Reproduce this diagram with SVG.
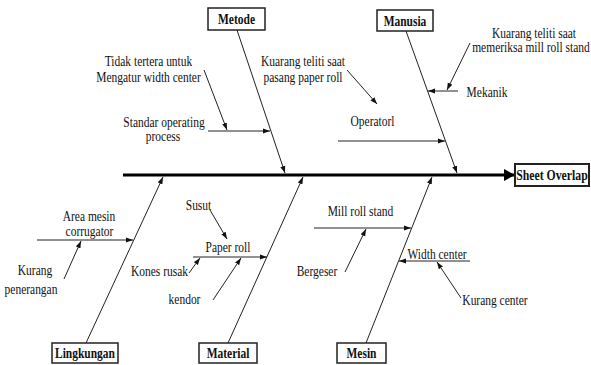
<svg xmlns="http://www.w3.org/2000/svg" width="591" height="365" viewBox="0 0 591 365" font-family="'Liberation Serif', 'Times New Roman', serif">
<style>
text{font-family:"Liberation Serif","Times New Roman",serif;font-size:14px;fill:#111;text-anchor:middle}
.lbl{font-weight:bold}
.box{fill:#fff;stroke:#222;stroke-width:1.5}
.bone{stroke:#222;stroke-width:1;fill:none;marker-end:url(#ah)}
.spine{stroke:#000;stroke-width:3;fill:none;marker-end:url(#ahb)}
</style>
<defs>
<marker id="ah" markerUnits="userSpaceOnUse" markerWidth="8" markerHeight="6" refX="7" refY="3" orient="auto"><path d="M0,0.5 L7,3 L0,5.5 z" fill="#111"/></marker>
<marker id="ahb" markerUnits="userSpaceOnUse" markerWidth="12" markerHeight="12" refX="11" refY="6" orient="auto"><path d="M0,0 L11,6 L0,12 z" fill="#000"/></marker>
</defs>
<rect width="591" height="365" fill="#fff"/>
<g id="connectors">
<line class="spine" x1="123" y1="175" x2="515" y2="175"/>
<line class="bone" x1="237" y1="30" x2="285" y2="173"/>
<line class="bone" x1="406" y1="31" x2="457" y2="173"/>
<line class="bone" x1="86" y1="343" x2="163" y2="177"/>
<line class="bone" x1="228" y1="343" x2="303" y2="177"/>
<line class="bone" x1="366" y1="343" x2="432" y2="177"/>
<line class="bone" x1="208" y1="131" x2="270" y2="131"/>
<line class="bone" x1="204" y1="70" x2="227" y2="130"/>
<line class="bone" x1="347" y1="70" x2="377" y2="104"/>
<line class="bone" x1="338" y1="141" x2="445" y2="141"/>
<line class="bone" x1="470" y1="43" x2="447" y2="90"/>
<line class="bone" x1="458" y1="91" x2="428" y2="91"/>
<line class="bone" x1="37" y1="240" x2="133" y2="240"/>
<line class="bone" x1="64" y1="279" x2="81" y2="241"/>
<line class="bone" x1="210" y1="210" x2="227" y2="239"/>
<line class="bone" x1="193" y1="257" x2="267" y2="257"/>
<line class="bone" x1="189" y1="273" x2="200" y2="258"/>
<line class="bone" x1="213" y1="300" x2="241" y2="258"/>
<line class="bone" x1="314" y1="228" x2="411" y2="228"/>
<line class="bone" x1="345" y1="272" x2="366" y2="229"/>
<line class="bone" x1="470" y1="261" x2="399" y2="261"/>
<line class="bone" x1="461" y1="298" x2="437" y2="262"/>
</g>
<g id="metode"><rect class="box" x="208" y="8" width="57" height="22"/><text class="lbl" transform="matrix(0.82 0 0 1 236.5 24)">Metode</text></g>
<g id="manusia"><rect class="box" x="377" y="10" width="56" height="21"/><text class="lbl" transform="matrix(0.82 0 0 1 405 26)">Manusia</text></g>
<g id="sheet-overlap"><rect class="box" x="515" y="164" width="74" height="22" style="stroke-width:2"/><text class="lbl" transform="matrix(0.84 0 0 1 552 180)">Sheet Overlap</text></g>
<g id="lingkungan"><rect class="box" x="52" y="343" width="66" height="20"/><text class="lbl" transform="matrix(0.82 0 0 1 85 358)">Lingkungan</text></g>
<g id="material"><rect class="box" x="199" y="343" width="58" height="20"/><text class="lbl" transform="matrix(0.82 0 0 1 228 358)">Material</text></g>
<g id="mesin"><rect class="box" x="337" y="343" width="49" height="20"/><text class="lbl" transform="matrix(0.82 0 0 1 361.5 358)">Mesin</text></g>
<g id="labels">
<text transform="matrix(0.82 0 0 1 148.5 66)">Tidak tertera untuk</text>
<text transform="matrix(0.82 0 0 1 148.5 82)">Mengatur width center</text>
<text transform="matrix(0.82 0 0 1 303 66)">Kuarang teliti saat</text>
<text transform="matrix(0.82 0 0 1 303 82)">pasang paper roll</text>
<text transform="matrix(0.82 0 0 1 164 127)">Standar operating</text>
<text transform="matrix(0.82 0 0 1 163 141)">process</text>
<text transform="matrix(0.82 0 0 1 372.5 126)">Operatorl</text>
<text transform="matrix(0.82 0 0 1 534 38)">Kuarang teliti saat</text>
<text transform="matrix(0.82 0 0 1 531 52)">memeriksa mill roll stand</text>
<text transform="matrix(0.82 0 0 1 487 97)">Mekanik</text>
<text transform="matrix(0.82 0 0 1 89 221)">Area mesin</text>
<text transform="matrix(0.82 0 0 1 89.5 236)">corrugator</text>
<text transform="matrix(0.82 0 0 1 35 275)">Kurang</text>
<text transform="matrix(0.82 0 0 1 31 294)">penerangan</text>
<text transform="matrix(0.82 0 0 1 198.5 210)">Susut</text>
<text transform="matrix(0.82 0 0 1 228 252)">Paper roll</text>
<text transform="matrix(0.82 0 0 1 159.5 276)">Kones rusak</text>
<text transform="matrix(0.82 0 0 1 184.5 304)">kendor</text>
<text transform="matrix(0.82 0 0 1 360.5 216)">Mill roll stand</text>
<text transform="matrix(0.82 0 0 1 317 276)">Bergeser</text>
<text transform="matrix(0.82 0 0 1 437 259)">Width center</text>
<text transform="matrix(0.82 0 0 1 495 305)">Kurang center</text>
</g>
</svg>
